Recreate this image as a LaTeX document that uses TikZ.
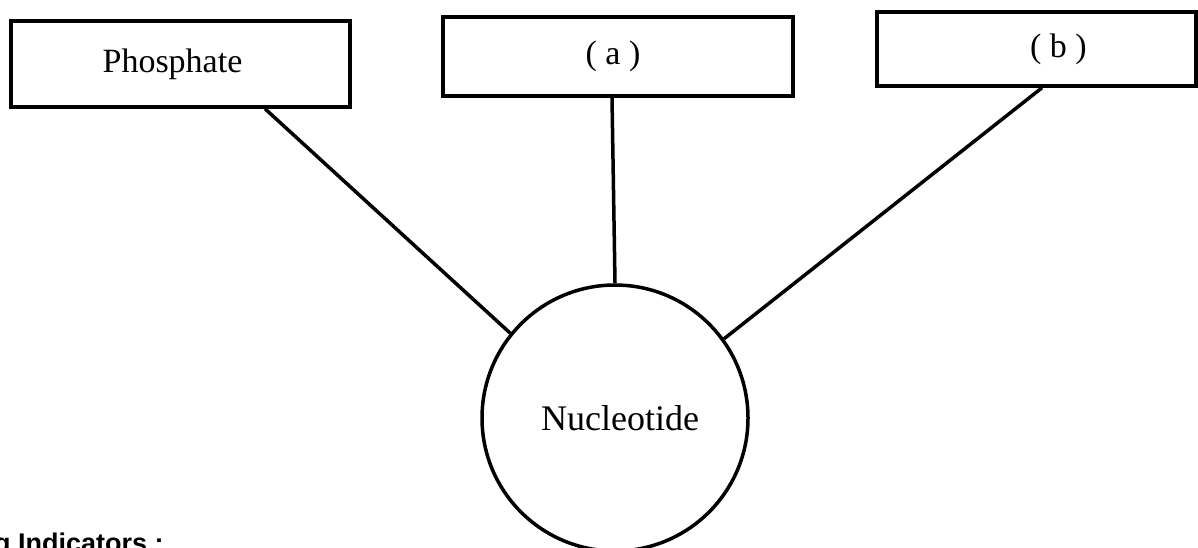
\documentclass[tikz,border=0pt]{standalone}
\usepackage{fontspec}
\setmainfont{Liberation Serif}
\newfontfamily\notefont{Liberation Sans}
\usetikzlibrary{positioning}

\begin{document}
\begin{tikzpicture}[x=1pt,y=-1pt,
    part/.style={draw, line width=3.5pt, rectangle, inner sep=0pt, font=\fontsize{34}{40}\selectfont},
    core/.style={draw, line width=3.5pt, circle, inner sep=0pt, minimum size=266pt, font=\fontsize{36}{42}\selectfont},
    link/.style={line width=3.5pt}]
				\useasboundingbox (0,0) rectangle (1198,547);
				\node[part, minimum width=339pt, minimum height=86pt] (phos) at (180.5,64) {Phosphate\hspace*{16pt}};
				\node[part, minimum width=350pt, minimum height=79pt] (parta) at (618,56.5) {( a )\hspace*{10pt}};
				\node[part, minimum width=319pt, minimum height=74pt] (partb) at (1036.5,49) {\hspace*{44pt}( b )};
				\node[core] (nuc) at (615,418) {\hspace*{10pt}Nucleotide};
				\draw[link] (phos.south -| 265,0) -- (nuc.141);
				\draw[link] (parta.south -| 612,0) -- (nuc.north);
				\draw[link] (partb.south -| 1042,0) -- (nuc.36);
				\node[anchor=base west, inner sep=0pt, font=\notefont\bfseries\fontsize{27}{32}\selectfont] (notes) at (-6,552) {g Indicators :};
			\end{tikzpicture}
\end{document}
